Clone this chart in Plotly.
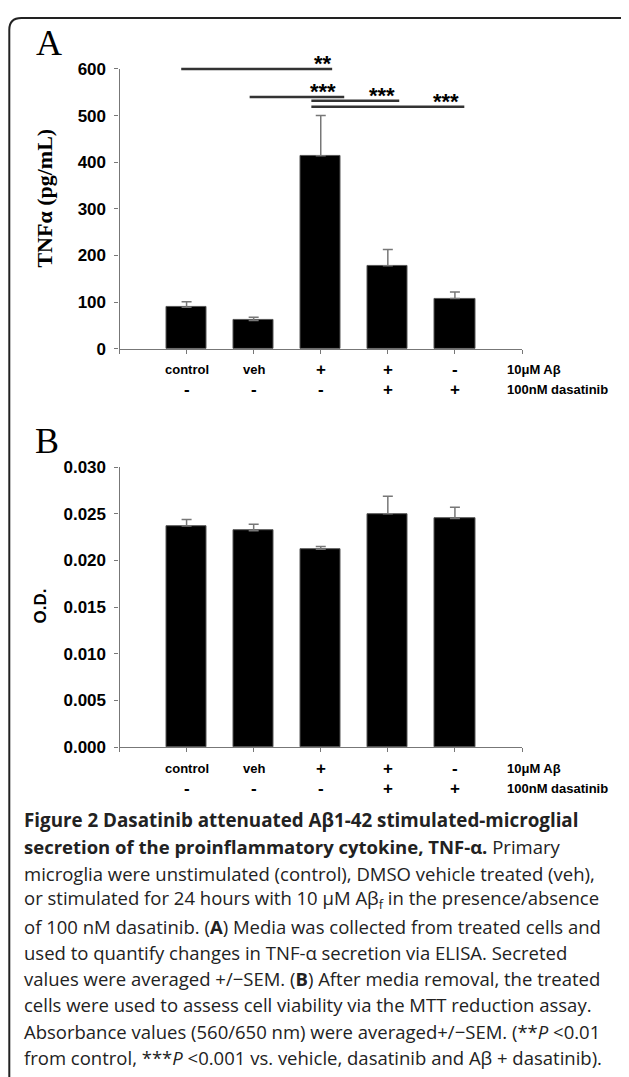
import plotly.graph_objects as go

# ---------------- data ----------------
x_pos = [1, 2, 3, 4, 5]
row1_labels = ["control", "veh", "+", "+", "-"]
row2_labels = ["-", "-", "-", "+", "+"]
row1_title = "10μM Aβ"
row2_title = "100nM dasatinib"

tnf_mean = [89, 61, 414, 178, 108]
tnf_sem = [12, 7, 86, 35, 14]

od_mean = [0.0237, 0.0232, 0.0212, 0.0250, 0.0245]
od_sem = [0.0007, 0.0007, 0.0003, 0.0019, 0.0012]

# significance brackets
sig_x0 = [0.92, 1.94, 2.86, 2.86]
sig_x1 = [3.17, 3.35, 4.17, 5.14]
sig_y = [600, 540, 532, 519]
sig_text = ["**", "***", "***", "***"]
sig_tx = [3.04, 3.04, 3.92, 4.87]
sig_ty = [618, 558, 549, 536]

caption_lines = [
    "<b>Figure 2 Dasatinib attenuated Aβ1-42 stimulated-microglial</b>",
    "<b>secretion of the proinflammatory cytokine, TNF-α.</b> Primary",
    "microglia were unstimulated (control), DMSO vehicle treated (veh),",
    "or stimulated for 24 hours with 10 μM Aβ<sub>f</sub> in the presence/absence",
    "of 100 nM dasatinib. (<b>A</b>) Media was collected from treated cells and",
    "used to quantify changes in TNF-α secretion via ELISA. Secreted",
    "values were averaged +/−SEM. (<b>B</b>) After media removal, the treated",
    "cells were used to assess cell viability via the MTT reduction assay.",
    "Absorbance values (560/650 nm) were averaged+/−SEM. (**<i>P</i> &lt;0.01",
    "from control, ***<i>P</i> &lt;0.001 vs. vehicle, dasatinib and Aβ + dasatinib).",
]
caption_y = [820, 846, 873, 899, 926, 952, 978, 1004, 1031, 1057]

# ---------------- page geometry helpers ----------------
W, H = 621, 1069
SX, OX = 1.0, 8.0         # horizontal mapping of the page
SY, OY = 0.9825, 16.36    # observed vertical mapping of the page


def pxx(p):
    return (p / SX - OX) / W


def pxy(p):
    return 1 - ((p - OY) / SY) / H


SANS = "Liberation Sans, Arial, sans-serif"
SERIF = "Liberation Serif, Times New Roman, serif"
CAP = "Open Sans, Noto Sans, sans-serif"

fig = go.Figure()

bar_common = dict(
    marker=dict(color="black", line=dict(color="#555", width=1)),
    width=0.6,
    showlegend=False,
    hoverinfo="skip",
)

fig.add_trace(go.Bar(
    x=x_pos, y=tnf_mean, xaxis="x", yaxis="y",
    error_y=dict(type="data", symmetric=False, array=tnf_sem,
                 arrayminus=[0] * len(tnf_sem), color="#777",
                 thickness=1.5, width=5),
    **bar_common))

fig.add_trace(go.Bar(
    x=x_pos, y=od_mean, xaxis="x2", yaxis="y2",
    error_y=dict(type="data", symmetric=False, array=od_sem,
                 arrayminus=[0] * len(od_sem), color="#777",
                 thickness=1.5, width=5),
    **bar_common))

xdom = [pxx(119.5), pxx(522)]
ydomA = [pxy(348.3), pxy(68.3)]
ydomB = [pxy(746.7), pxy(466.7)]
XR = [0, 6]
YRA = [0, 600]

axis_common = dict(showgrid=False, zeroline=False, showline=True,
                   linecolor="#777", linewidth=1.2, ticks="outside",
                   ticklen=4, tickwidth=1.2, tickcolor="#777")

xaxis_common = dict(range=XR, tickvals=[0, 1, 2, 3, 4, 5, 6],
                    showticklabels=False, domain=xdom, **axis_common)

fig.update_layout(
    width=W, height=H,
    margin=dict(l=0, r=0, t=0, b=0),
    paper_bgcolor="white", plot_bgcolor="white",
    bargap=0,
    xaxis=dict(anchor="y", **xaxis_common),
    yaxis=dict(anchor="x", range=YRA, dtick=100, domain=ydomA,
               tickfont=dict(family=SANS, size=17, color="black", weight="bold"),
               ticklabelstandoff=5, **axis_common),
    xaxis2=dict(anchor="y2", **xaxis_common),
    yaxis2=dict(anchor="x2", range=[0, 0.030], dtick=0.005, tickformat=".3f",
                domain=ydomB,
                tickfont=dict(family=SANS, size=17, color="black", weight="bold"),
                ticklabelstandoff=5, **axis_common),
)


def data_to_paper_x(v):
    return xdom[0] + (v - XR[0]) / (XR[1] - XR[0]) * (xdom[1] - xdom[0])


def data_to_paper_yA(v):
    return ydomA[0] + (v - YRA[0]) / (YRA[1] - YRA[0]) * (ydomA[1] - ydomA[0])


annotations = []
shapes = []

# significance brackets (paper refs so the top one is not clipped)
for x0, x1, yv in zip(sig_x0, sig_x1, sig_y):
    shapes.append(dict(type="line", xref="paper", yref="paper",
                       x0=data_to_paper_x(x0), x1=data_to_paper_x(x1),
                       y0=data_to_paper_yA(yv), y1=data_to_paper_yA(yv),
                       line=dict(color="#333", width=2.5)))
for t, tx, ty in zip(sig_text, sig_tx, sig_ty):
    annotations.append(dict(xref="x", yref="paper", x=tx,
                            y=data_to_paper_yA(ty),
                            text=t, showarrow=False, xanchor="center",
                            yanchor="middle", yshift=-3,
                            font=dict(family=SANS, size=22, color="black",
                                      weight="bold")))

# category label rows under both panels
for xa, base in (("x", 348.3), ("x2", 746.7)):
    for row_labels, row_title, dy in ((row1_labels, row1_title, 21),
                                      (row2_labels, row2_title, 41)):
        for xv, lab in zip(x_pos, row_labels):
            size = 17 if lab in "+-" else 13
            annotations.append(dict(xref=xa, yref="paper", x=xv,
                                    y=pxy(base + dy), text=lab,
                                    showarrow=False, xanchor="center",
                                    yanchor="middle",
                                    font=dict(family=SANS, size=size,
                                              color="black", weight="bold")))
        annotations.append(dict(xref=xa, yref="paper", x=5.75,
                                y=pxy(base + dy), text=row_title,
                                showarrow=False, xanchor="left",
                                yanchor="middle",
                                font=dict(family=SANS, size=13, color="black",
                                          weight="bold")))

# axis titles
annotations.append(dict(xref="paper", yref="paper", x=pxx(45), y=pxy(198),
                        text="TNFα (pg/mL)", textangle=-90, showarrow=False,
                        xanchor="center", yanchor="middle",
                        font=dict(family=SERIF, size=22, color="black",
                                  weight="bold")))
annotations.append(dict(xref="paper", yref="paper", x=pxx(40), y=pxy(606),
                        text="O.D.", textangle=-90, showarrow=False,
                        xanchor="center", yanchor="middle",
                        font=dict(family=SANS, size=17, color="black",
                                  weight="bold")))

# panel letters
annotations.append(dict(xref="paper", yref="paper", x=pxx(49), y=pxy(42),
                        text="A", showarrow=False, xanchor="center",
                        yanchor="middle",
                        font=dict(family=SERIF, size=36, color="black")))
annotations.append(dict(xref="paper", yref="paper", x=pxx(47), y=pxy(440),
                        text="B", showarrow=False, xanchor="center",
                        yanchor="middle",
                        font=dict(family=SERIF, size=36, color="black")))

# caption
for i, (line, yy) in enumerate(zip(caption_lines, caption_y)):
    annotations.append(dict(xref="paper", yref="paper", x=pxx(21.7), y=pxy(yy),
                            text=line, showarrow=False, xanchor="left",
                            yanchor="middle",
                            font=dict(family=CAP, size=18.8 if i == 0 else 18.5,
                                      color="#222")))

# rounded frame (right side runs off the page)
L, R, r = 9.3, 640, 12
top = 1 - 1.0 / H
bot = -0.05
path = (f"M {pxx(L)},{bot} L {pxx(L)},{top - r / H} "
        f"Q {pxx(L)},{top} {pxx(L + r)},{top} "
        f"L {pxx(R - r)},{top} "
        f"Q {pxx(R)},{top} {pxx(R)},{top - r / H} "
        f"L {pxx(R)},{bot}")
shapes.append(dict(type="path", xref="paper", yref="paper", path=path,
                   line=dict(color="#222", width=2)))

fig.update_layout(annotations=annotations, shapes=shapes)

fig.write_html("out.html")
